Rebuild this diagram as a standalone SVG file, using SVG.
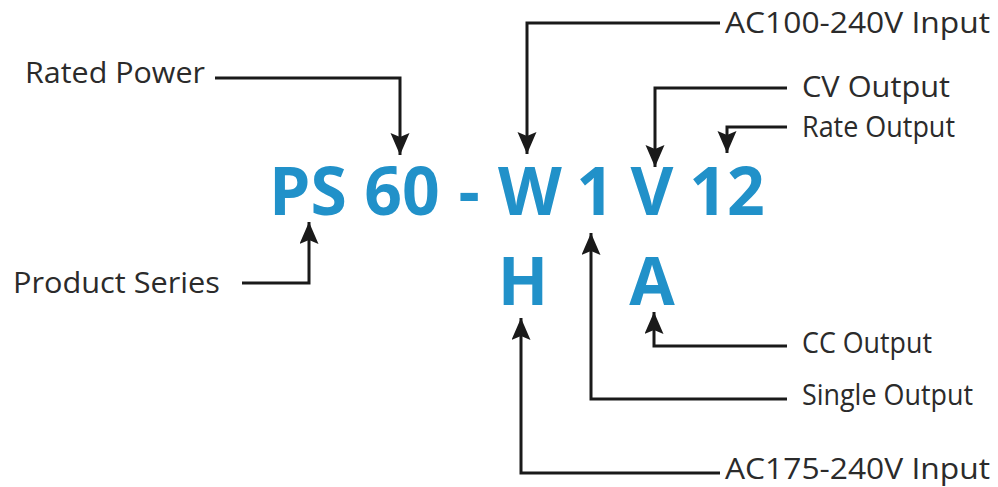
<svg xmlns="http://www.w3.org/2000/svg" width="998" height="487" viewBox="0 0 998 487">
  <style>
    .lbl { font-family: "Open Sans", "Liberation Sans", sans-serif; font-size: 28.5px; fill: #2b2b2b; }
    .code { font-family: "Open Sans", "Liberation Sans", sans-serif; font-size: 66px; font-weight: bold; fill: #2191c9; text-anchor: middle; }
    .conn { fill: none; stroke: #1a1a1a; stroke-width: 3; }
  </style>
  <defs>
    <marker id="arrow" markerUnits="userSpaceOnUse" markerWidth="24" markerHeight="20" refX="22" refY="9.5" orient="auto">
      <path d="M0,0 L22,9.5 L0,19 L4,9.5 Z" fill="#1a1a1a"/>
    </marker>
  </defs>
  <rect width="998" height="487" fill="#ffffff"/>

  <g id="model-code">
    <text class="code" x="308" y="215">PS</text>
    <text class="code" x="402" y="215">60</text>
    <text class="code" x="469" y="215">-</text>
    <text class="code" x="530" y="215">W</text>
    <text class="code" x="595" y="215">1</text>
    <text class="code" x="652" y="215">V</text>
    <text class="code" x="727" y="215">12</text>
    <text class="code" x="523" y="305">H</text>
    <text class="code" x="652" y="305">A</text>
  </g>

  <g id="label-rated-power"><text class="lbl" x="25" y="83" textLength="180" lengthAdjust="spacingAndGlyphs">Rated Power</text></g>
  <g id="label-product-series"><text class="lbl" x="13" y="293" textLength="207" lengthAdjust="spacingAndGlyphs">Product Series</text></g>
  <g id="label-ac100"><text class="lbl" x="725" y="33" textLength="265" lengthAdjust="spacingAndGlyphs">AC100-240V Input</text></g>
  <g id="label-cv"><text class="lbl" x="802" y="97" textLength="148" lengthAdjust="spacingAndGlyphs">CV Output</text></g>
  <g id="label-rate"><text class="lbl" x="802" y="137" textLength="153" lengthAdjust="spacingAndGlyphs">Rate Output</text></g>
  <g id="label-cc"><text class="lbl" x="802" y="353" textLength="130" lengthAdjust="spacingAndGlyphs">CC Output</text></g>
  <g id="label-single"><text class="lbl" x="802" y="405" textLength="171" lengthAdjust="spacingAndGlyphs">Single Output</text></g>
  <g id="label-ac175"><text class="lbl" x="725" y="479" textLength="265" lengthAdjust="spacingAndGlyphs">AC175-240V Input</text></g>

  <g id="connectors">
    <path class="conn" d="M215,78 H400 V155" marker-end="url(#arrow)"/>
    <path class="conn" d="M242,283 H309 V222" marker-end="url(#arrow)"/>
    <path class="conn" d="M720,23 H527 V154" marker-end="url(#arrow)"/>
    <path class="conn" d="M787,88 H655 V167" marker-end="url(#arrow)"/>
    <path class="conn" d="M787,127 H727 V153" marker-end="url(#arrow)"/>
    <path class="conn" d="M787,399 H591 V233" marker-end="url(#arrow)"/>
    <path class="conn" d="M787,346 H654 V312" marker-end="url(#arrow)"/>
    <path class="conn" d="M720,473 H521 V318" marker-end="url(#arrow)"/>
  </g>
</svg>
